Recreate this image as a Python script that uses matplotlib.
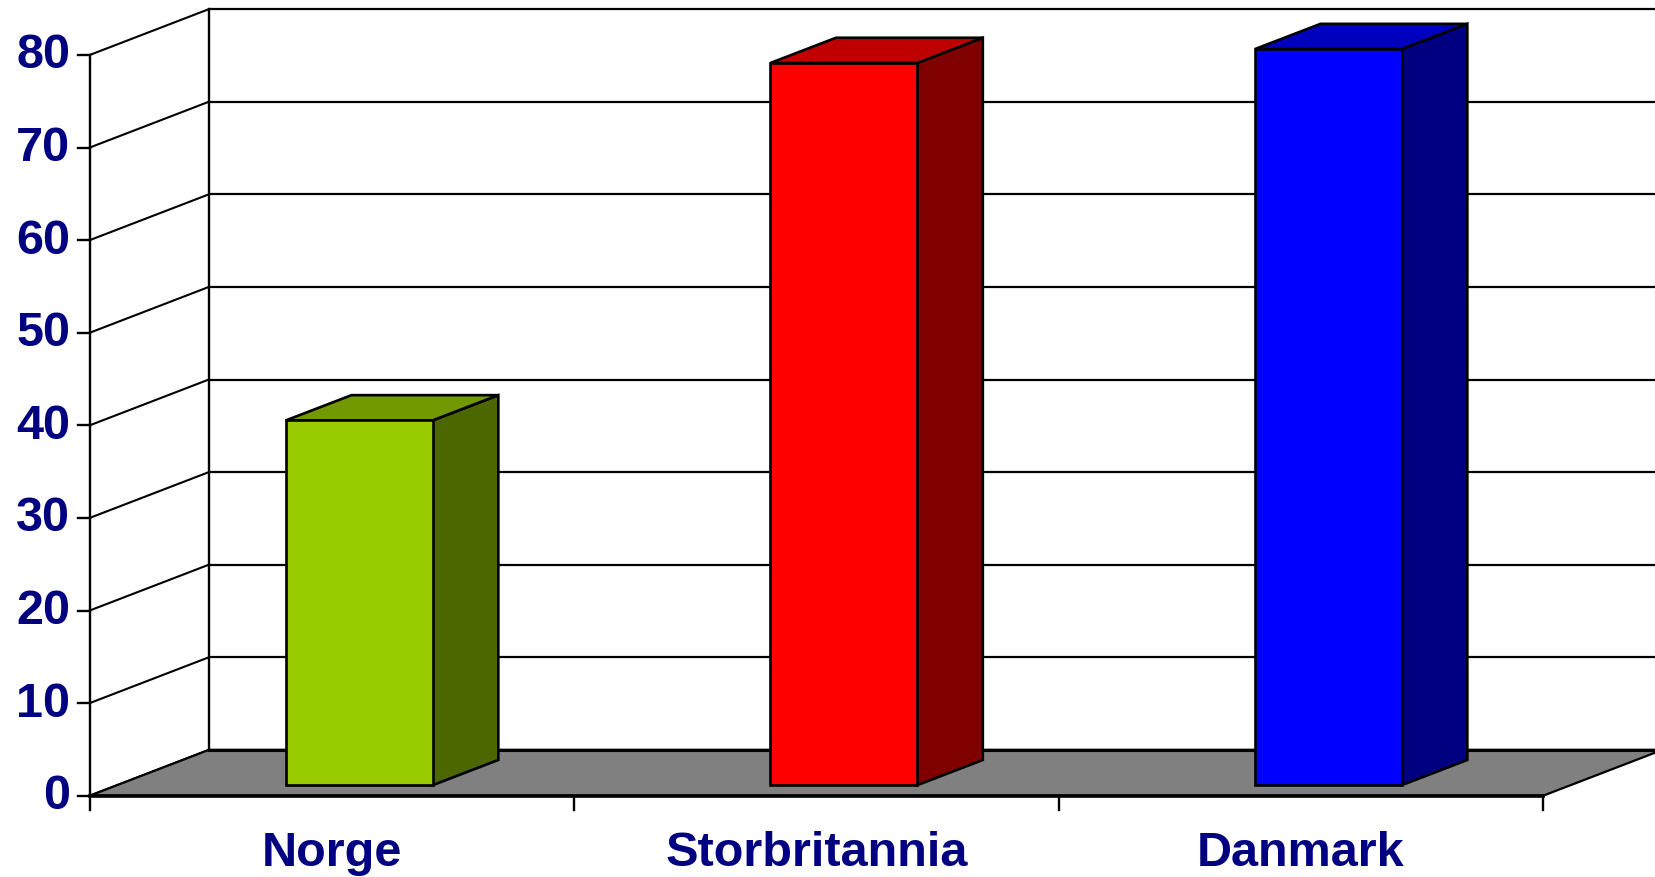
import matplotlib
matplotlib.use("Agg")
import matplotlib.pyplot as plt
from matplotlib.patches import Polygon

# ---- data ----
categories = ["Norge", "Storbritannia", "Danmark"]
values = [39.4, 78.0, 79.5]
y_ticks = [0, 10, 20, 30, 40, 50, 60, 70, 80]
front_colors = ["#99CC00", "#FF0000", "#0000FF"]
top_colors = ["#739900", "#BF0000", "#0000BF"]
side_colors = ["#4C6600", "#800000", "#000080"]

text_color = "#000080"
W, H = 1655, 878
fig = plt.figure(figsize=(W / 100, H / 100), dpi=100)
ax = fig.add_axes([0, 0, 1, 1])

# pixel mapping of the front plane
x0_px, cat_px = 89.7, 484.5
y0_px_from_bottom, unit_px = 81.3, 9.259
ax.set_xlim(-x0_px / cat_px, (W - x0_px) / cat_px)
ax.set_ylim(-y0_px_from_bottom / unit_px, (H - y0_px_from_bottom) / unit_px)
ax.axis("off")

DX, DY = 0.246, 4.95   # full depth offset in data units
n = len(categories)
ymax = max(y_ticks)

def off(x, y, d):
    return (x + d * DX, y + d * DY)

# back wall gridlines and left wall diagonals
for v in y_ticks:
    ax.plot([DX, n + DX + 0.2], [v + DY, v + DY], color="black", lw=1.6, zorder=1,
            solid_capstyle="butt")
    ax.plot([0, DX], [v, v + DY], color="black", lw=1.5, zorder=1)
# back wall left vertical
ax.plot([DX, DX], [DY, ymax + DY], color="black", lw=1.7, zorder=1)
# front y axis
ax.plot([0, 0], [0, ymax], color="black", lw=1.7, zorder=1)

# floor
floor = Polygon([(0, 0), (n, 0), (n + DX, DY), (DX, DY)], closed=True,
                facecolor="#808080", edgecolor="black", lw=1.6, zorder=2)
ax.add_patch(floor)
ax.plot([0, n], [0, 0], color="black", lw=2.6, zorder=2)
ax.plot([DX, n + DX + 0.2], [DY, DY], color="black", lw=2.2, zorder=2)

# ticks
for v in y_ticks:
    ax.plot([-0.024, 0], [v, v], color="black", lw=1.7, zorder=2)
    ax.text(-0.040, v, str(v), ha="right", va="center", fontsize=35,
            fontweight="bold", color=text_color, family="Liberation Sans")
for i in range(n + 1):
    ax.plot([i, i], [0, -1.5], color="black", lw=1.7, zorder=2)

# bars
d0, d1 = 0.23, 0.78
bw = 0.303
for i, (cat, val) in enumerate(zip(categories, values)):
    c = i + 0.5
    xl, xr = c - bw / 2, c + bw / 2
    fl = off(xl, 0, d0); fr = off(xr, 0, d0)
    tl = off(xl, val, d0); tr = off(xr, val, d0)
    br_b = off(xr, 0, d1); br_t = off(xr, val, d1); bl_t = off(xl, val, d1)
    side = Polygon([fr, br_b, br_t, tr], closed=True, facecolor=side_colors[i],
                   edgecolor="black", lw=1.9, zorder=3, joinstyle="miter")
    top = Polygon([tl, tr, br_t, bl_t], closed=True, facecolor=top_colors[i],
                  edgecolor="black", lw=1.9, zorder=3, joinstyle="miter")
    front = Polygon([fl, fr, tr, tl], closed=True, facecolor=front_colors[i],
                    edgecolor="black", lw=1.9, zorder=4, joinstyle="miter")
    for p in (side, top, front):
        ax.add_patch(p)
    ax.text(c, -3.75, cat, ha="center", va="top", fontsize=35, fontweight="bold",
            color=text_color, family="Liberation Sans")

fig.savefig("out.png", dpi=100)
